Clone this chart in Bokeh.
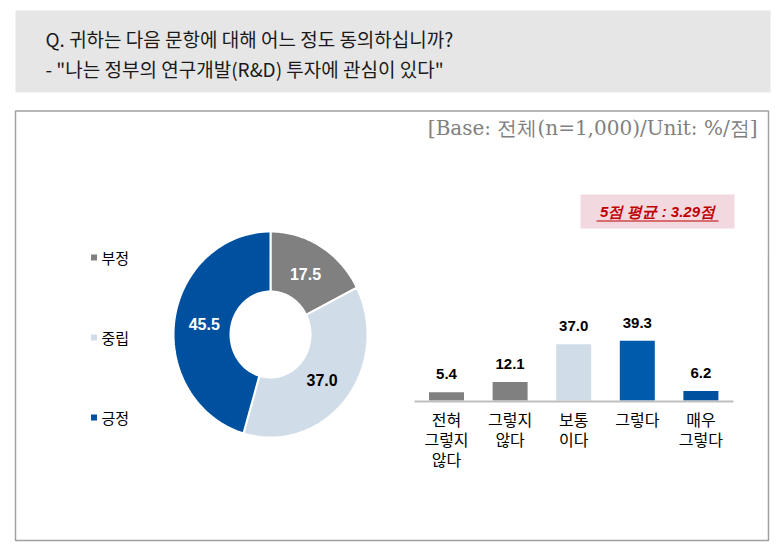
import numpy as np
from bokeh.plotting import figure
from bokeh.models import Range1d
from bokeh.core.properties import value
from bokeh.embed import file_html
from bokeh.resources import INLINE

# ---- data ----
title_lines = ["Q. 귀하는 다음 문항에 대해 어느 정도 동의하십니까?",
               "- \"나는 정부의 연구개발(R&D) 투자에 관심이 있다\""]
base_note = "[Base: 전체(n=1,000)/Unit: %/점]"
avg_note = "5점 평균 : 3.29점"

donut_labels = ["부정", "중립", "긍정"]
donut_values = [17.5, 37.0, 45.5]
donut_colors = ["#808080", "#d0dce8", "#0050a0"]
donut_text_colors = ["white", "black", "white"]

bar_categories = ["전혀\n그렇지\n않다", "그렇지\n않다", "보통\n이다", "그렇다", "매우\n그렇다"]
bar_values = [5.4, 12.1, 37.0, 39.3, 6.2]
bar_colors = ["#808080", "#808080", "#d0dce8", "#005bac", "#0050a0"]

FONT = "Noto Sans CJK KR"
BOLD = "Liberation Sans"

p = figure(width=774, height=552, x_range=Range1d(0, 774), y_range=Range1d(552, 0),
           output_backend="svg", toolbar_location=None, min_border=0)
p.axis.visible = False
p.grid.visible = False
p.outline_line_color = None
p.background_fill_color = "white"

# header
p.quad(left=15, right=770, top=10, bottom=92, fill_color="#e6e6e6", line_color=None)
p.text(x=[45, 45], y=[38, 68], text=title_lines, text_font=value(FONT), text_font_size="19px",
       text_baseline="middle", text_color="#1a1a1a")

# main box
p.quad(left=15, right=768, top=110.5, bottom=540, fill_color=None, line_color="#a0a0a0", line_width=1.5)
p.text(x=[757], y=[127], text=[base_note], text_font=value("DejaVu Serif"), text_font_size="20px",
       text_align="right", text_baseline="middle", text_color="#808080")

# avg note box
p.quad(left=580, right=734, top=194, bottom=228, fill_color="#f2d8df", line_color=None)
p.text(x=[657], y=[211], text=[avg_note], text_font=value(BOLD), text_font_size="15px",
       text_font_style="bold italic", text_align="center", text_baseline="middle", text_color="#c00000")
p.segment(x0=[596], x1=[718], y0=[220.5], y1=[220.5], line_color="#c00000", line_width=1)

# donut
cx, cy = 270, 334
rxo, ryo, rxi, ryi = 97, 103, 40, 43
total = sum(donut_values)
cum = np.concatenate([[0], np.cumsum(donut_values)]) / total * 2 * np.pi
xs, ys, lx, ly = [], [], [], []
for i in range(len(donut_values)):
    t = np.linspace(cum[i], cum[i + 1], 80)
    ox = cx + rxo * np.sin(t); oy = cy - ryo * np.cos(t)
    ix = cx + rxi * np.sin(t[::-1]); iy = cy - ryi * np.cos(t[::-1])
    xs.append(list(np.concatenate([ox, ix])))
    ys.append(list(np.concatenate([oy, iy])))
    m = (cum[i] + cum[i + 1]) / 2
    rm = 0.69
    lx.append(cx + rxo * rm * np.sin(m))
    ly.append(cy - ryo * rm * np.cos(m))
p.patches(xs=xs, ys=ys, fill_color=donut_colors, line_color="white", line_width=2)
p.text(x=lx, y=ly, text=[f"{v:.1f}" for v in donut_values], text_color=donut_text_colors,
       text_font=value(BOLD), text_font_size="16px", text_font_style="bold",
       text_align="center", text_baseline="middle")

# legend
leg_y = [257, 337, 417]
p.rect(x=[93.5] * 3, y=leg_y, width=6, height=6, fill_color=donut_colors, line_color=None)
p.text(x=[101] * 3, y=leg_y, text=donut_labels, text_font=value(FONT), text_font_size="15px",
       text_baseline="middle", text_color="black")

# bar chart
base_y = 400
scale = 1.52
x0, step = 446, 63.6
bx = [x0 + i * step for i in range(len(bar_values))]
tops = [base_y - v * scale for v in bar_values]
p.quad(left=[x - 17.5 for x in bx], right=[x + 17.5 for x in bx], top=tops, bottom=base_y,
       fill_color=bar_colors, line_color=None)
p.segment(x0=[414], x1=[733], y0=[base_y + 1], y1=[base_y + 1], line_color="#bfbfbf", line_width=2)
p.text(x=bx, y=[t - 18 for t in tops], text=[f"{v:.1f}" for v in bar_values],
       text_font=value(BOLD), text_font_size="15px", text_font_style="bold",
       text_align="center", text_baseline="middle", text_color="black")
cat_x, cat_y, cat_t = [], [], []
for x, cat in zip(bx, bar_categories):
    for j, line in enumerate(cat.split("\n")):
        cat_x.append(x); cat_y.append(418 + j * 20); cat_t.append(line)
p.text(x=cat_x, y=cat_y, text=cat_t, text_font=value(FONT), text_font_size="16px",
       text_align="center", text_baseline="middle", text_color="black")

open("out.html", "w").write(file_html(p, INLINE))
